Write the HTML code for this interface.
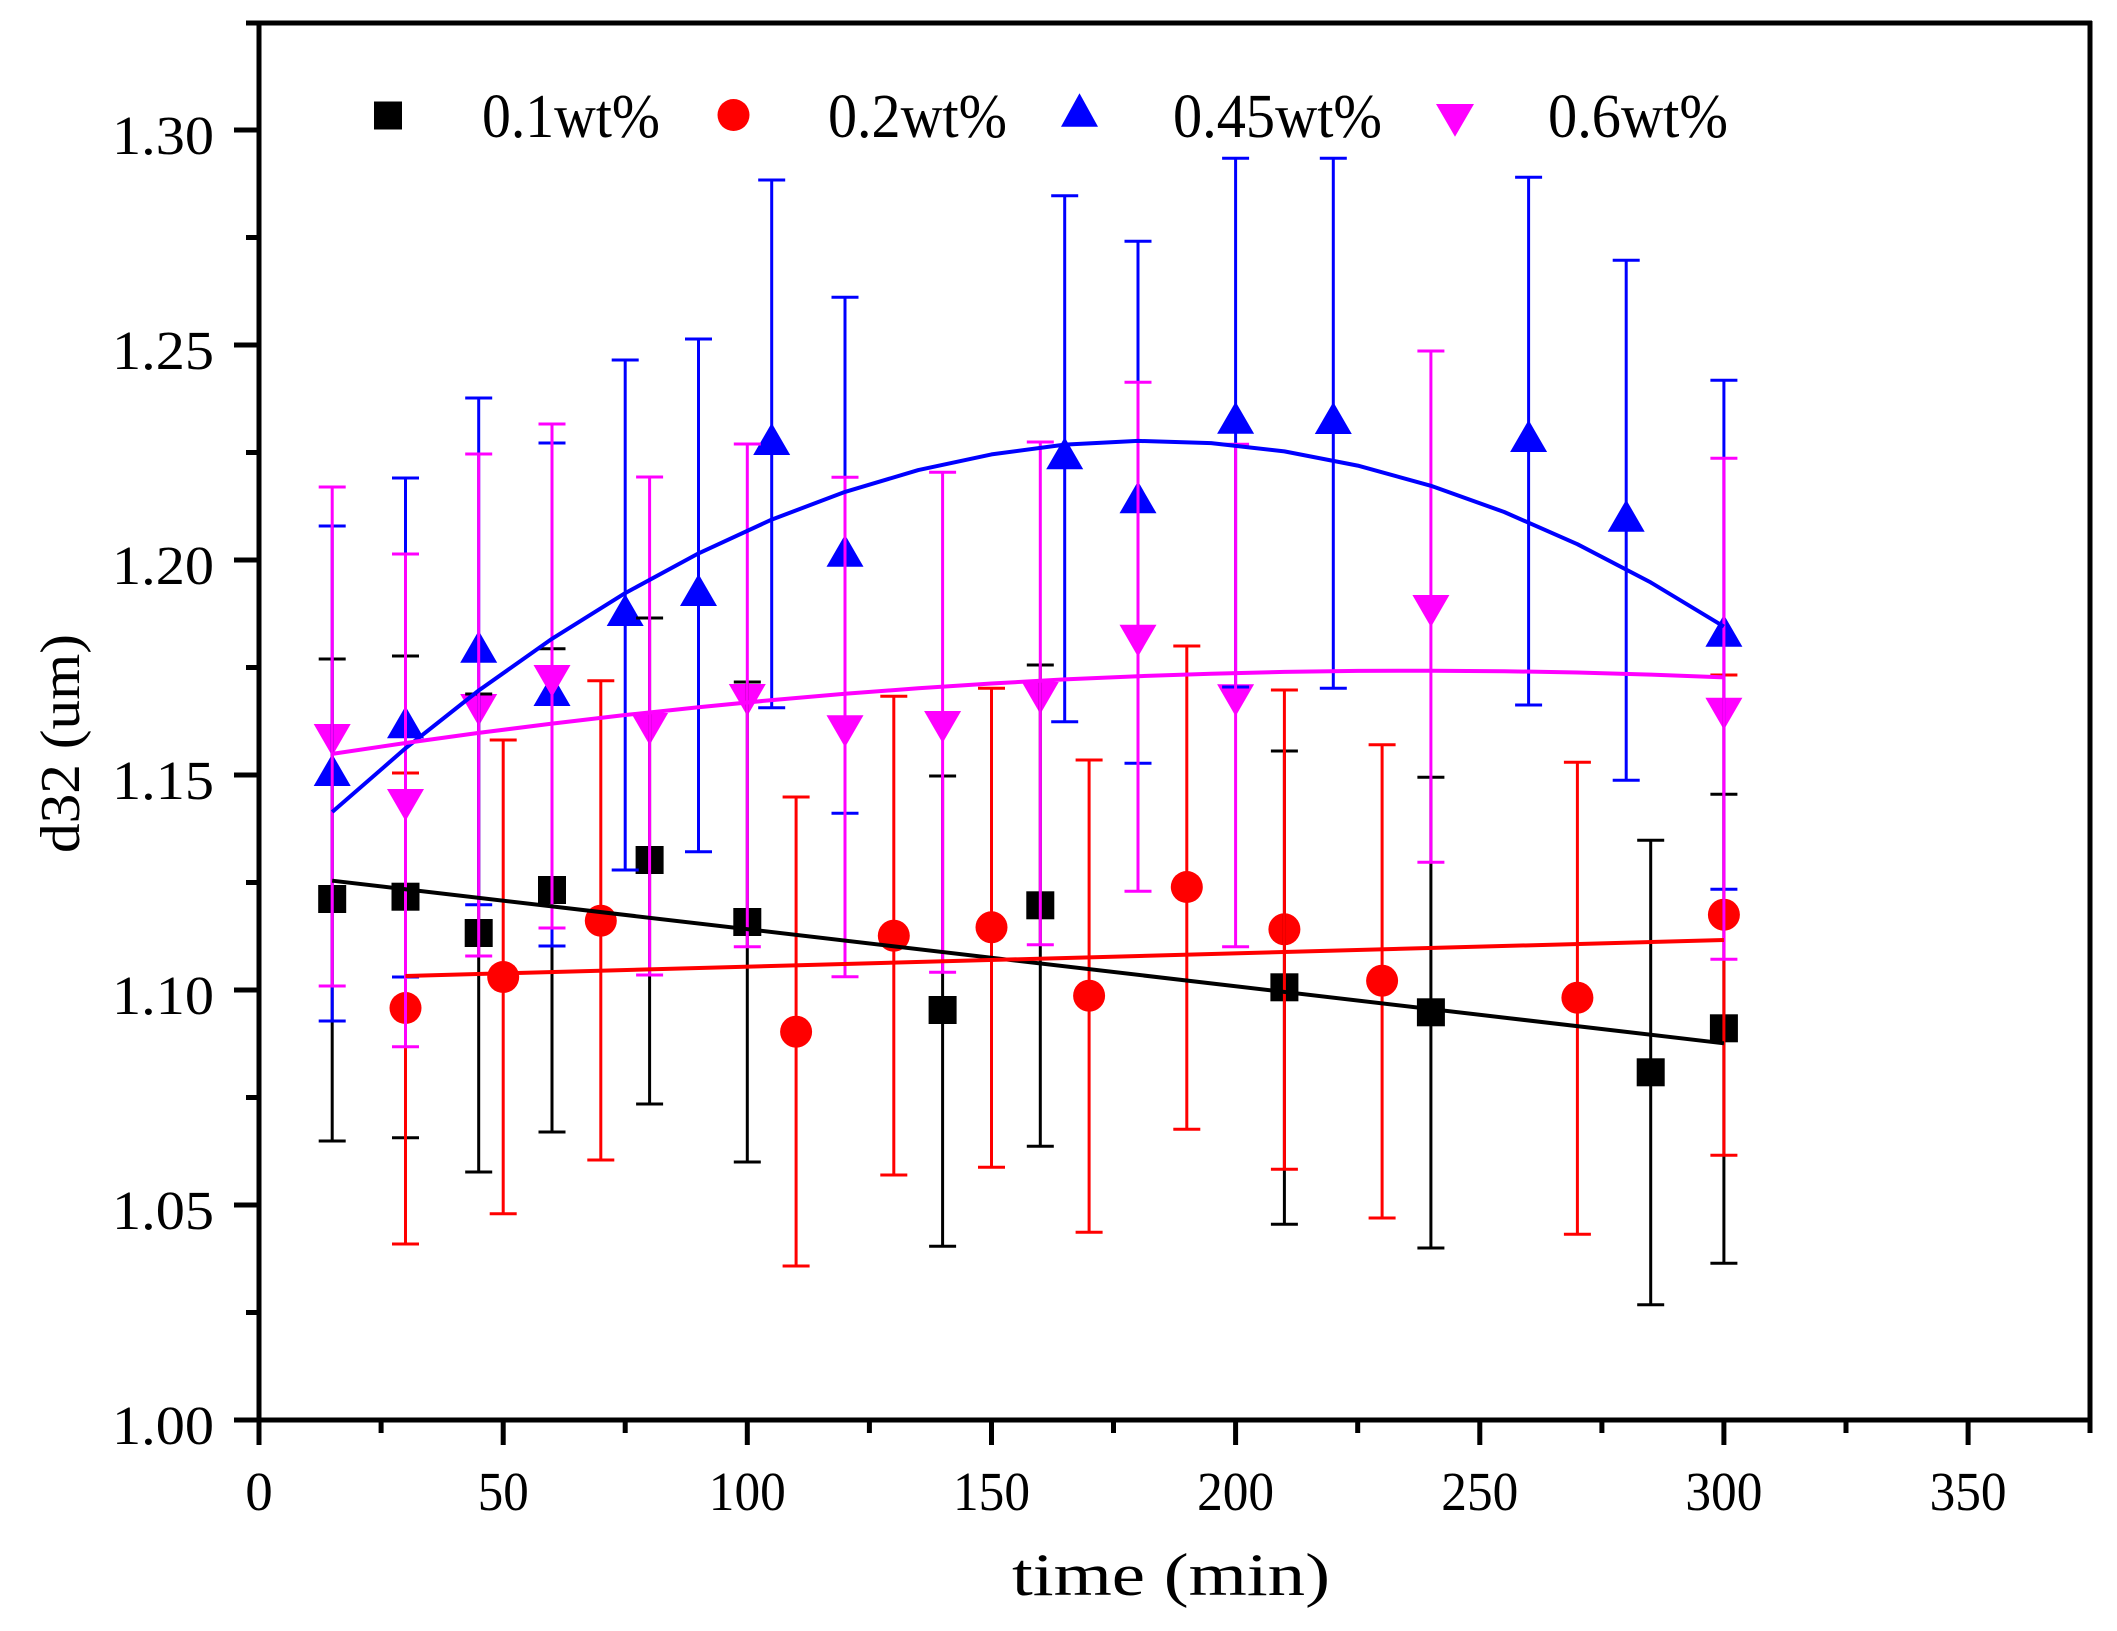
<!DOCTYPE html>
<html>
<head>
<meta charset="utf-8">
<style>
html,body{margin:0;padding:0;background:#fff;}
svg{display:block;}
text{font-family:"Liberation Serif","Noto Serif CJK SC",serif;fill:#000;}
</style>
</head>
<body>
<svg width="2117" height="1631" viewBox="0 0 2117 1631" xmlns="http://www.w3.org/2000/svg">
<rect x="0" y="0" width="2117" height="1631" fill="#fff"/>

<!-- markers -->
<g fill="#000">
<rect x="318.2" y="885" width="28" height="28"/>
<rect x="391.5" y="882.7" width="28" height="28"/>
<rect x="464.7" y="919" width="28" height="28"/>
<rect x="538" y="876" width="28" height="28"/>
<rect x="635.6" y="846" width="28" height="28"/>
<rect x="733.3" y="908" width="28" height="28"/>
<rect x="928.6" y="996" width="28" height="28"/>
<rect x="1026.3" y="891.3" width="28" height="28"/>
<rect x="1270.4" y="973.3" width="28" height="28"/>
<rect x="1416.9" y="998.3" width="28" height="28"/>
<rect x="1636.7" y="1058.3" width="28" height="28"/>
<rect x="1709.9" y="1014.3" width="28" height="28"/>
</g>
<g fill="#ff0000">
<circle cx="405.5" cy="1008" r="16"/>
<circle cx="503.2" cy="977" r="16"/>
<circle cx="600.8" cy="920.7" r="16"/>
<circle cx="796.1" cy="1031.7" r="16"/>
<circle cx="893.8" cy="935.7" r="16"/>
<circle cx="991.5" cy="927.3" r="16"/>
<circle cx="1089.1" cy="995.7" r="16"/>
<circle cx="1186.8" cy="887" r="16"/>
<circle cx="1284.4" cy="929.3" r="16"/>
<circle cx="1382.1" cy="980.7" r="16"/>
<circle cx="1577.4" cy="997.7" r="16"/>
<circle cx="1723.9" cy="914.7" r="16"/>
</g>
<g fill="#0000ff">
<polygon points="313.7,786 350.7,786 332.2,754"/>
<polygon points="387,738.3 424,738.3 405.5,706.3"/>
<polygon points="460.2,662.7 497.2,662.7 478.7,630.7"/>
<polygon points="533.5,706 570.5,706 552,674"/>
<polygon points="606.7,626 643.7,626 625.2,594"/>
<polygon points="680,606 717,606 698.5,574"/>
<polygon points="753.2,455 790.2,455 771.7,423"/>
<polygon points="826.5,566.7 863.5,566.7 845,534.7"/>
<polygon points="1046.2,469.3 1083.2,469.3 1064.7,437.3"/>
<polygon points="1119.5,513.3 1156.5,513.3 1138,481.3"/>
<polygon points="1217.1,433.7 1254.1,433.7 1235.6,401.7"/>
<polygon points="1314.8,434 1351.8,434 1333.3,402"/>
<polygon points="1510.1,452 1547.1,452 1528.6,420"/>
<polygon points="1607.7,531.7 1644.7,531.7 1626.2,499.7"/>
<polygon points="1705.4,646.7 1742.4,646.7 1723.9,614.7"/>
</g>
<g fill="#ff00ff">
<polygon points="313.7,724 350.7,724 332.2,756"/>
<polygon points="387,789 424,789 405.5,821"/>
<polygon points="460.2,694 497.2,694 478.7,726"/>
<polygon points="533.5,665 570.5,665 552,697"/>
<polygon points="631.1,713 668.1,713 649.6,745"/>
<polygon points="728.8,684 765.8,684 747.3,716"/>
<polygon points="826.5,715.3 863.5,715.3 845,747.3"/>
<polygon points="924.1,711 961.1,711 942.6,743"/>
<polygon points="1021.8,682 1058.8,682 1040.3,714"/>
<polygon points="1119.5,624.7 1156.5,624.7 1138,656.7"/>
<polygon points="1217.1,684.3 1254.1,684.3 1235.6,716.3"/>
<polygon points="1412.4,595 1449.4,595 1430.9,627"/>
<polygon points="1705.4,697.7 1742.4,697.7 1723.9,729.7"/>
</g>

<!-- error bars -->
<g fill="none" stroke-width="3">
<path stroke="#000" d="M332.2 659V1141M318.7 659H345.7M318.7 1141H345.7M405.5 656V1137.7M392 656H419M392 1137.7H419M478.7 694V1172M465.2 694H492.2M465.2 1172H492.2M552 648.7V1132M538.5 648.7H565.5M538.5 1132H565.5M649.6 618V1104M636.1 618H663.1M636.1 1104H663.1M747.3 682V1162M733.8 682H760.8M733.8 1162H760.8M942.6 776V1246.3M929.1 776H956.1M929.1 1246.3H956.1M1040.3 665V1146.3M1026.8 665H1053.8M1026.8 1146.3H1053.8M1284.4 751V1224.3M1270.9 751H1297.9M1270.9 1224.3H1297.9M1430.9 777.3V1248M1417.4 777.3H1444.4M1417.4 1248H1444.4M1650.7 840.3V1304.7M1637.2 840.3H1664.2M1637.2 1304.7H1664.2M1723.9 794.3V1263.3M1710.4 794.3H1737.4M1710.4 1263.3H1737.4"/>
<path stroke="#ff0000" d="M405.5 773V1244M392 773H419M392 1244H419M503.2 740V1213.7M489.7 740H516.7M489.7 1213.7H516.7M600.8 680.7V1160M587.3 680.7H614.3M587.3 1160H614.3M796.1 797V1266M782.6 797H809.6M782.6 1266H809.6M893.8 696.3V1175M880.3 696.3H907.3M880.3 1175H907.3M991.5 688.3V1167.3M978 688.3H1005M978 1167.3H1005M1089.1 760V1232.3M1075.6 760H1102.6M1075.6 1232.3H1102.6M1186.8 646V1129.3M1173.3 646H1200.3M1173.3 1129.3H1200.3M1284.4 690V1169.3M1270.9 690H1297.9M1270.9 1169.3H1297.9M1382.1 744.7V1218M1368.6 744.7H1395.6M1368.6 1218H1395.6M1577.4 762.3V1234.3M1563.9 762.3H1590.9M1563.9 1234.3H1590.9M1723.9 675V1155.3M1710.4 675H1737.4M1710.4 1155.3H1737.4"/>
<path stroke="#0000ff" d="M332.2 526V1021M318.7 526H345.7M318.7 1021H345.7M405.5 478V977M392 478H419M392 977H419M478.7 398V904.7M465.2 398H492.2M465.2 904.7H492.2M552 443V946M538.5 443H565.5M538.5 946H565.5M625.2 360V870M611.7 360H638.7M611.7 870H638.7M698.5 339V851.7M685 339H712M685 851.7H712M771.7 180V707.7M758.2 180H785.2M758.2 707.7H785.2M845 297.3V813.3M831.5 297.3H858.5M831.5 813.3H858.5M1064.7 195.7V721.7M1051.2 195.7H1078.2M1051.2 721.7H1078.2M1138 241.3V763.3M1124.5 241.3H1151.5M1124.5 763.3H1151.5M1235.6 158.3V687M1222.1 158.3H1249.1M1222.1 687H1249.1M1333.3 158.3V688.3M1319.8 158.3H1346.8M1319.8 688.3H1346.8M1528.6 177.3V705M1515.1 177.3H1542.1M1515.1 705H1542.1M1626.2 260.3V780.3M1612.7 260.3H1639.7M1612.7 780.3H1639.7M1723.9 380.3V889.3M1710.4 380.3H1737.4M1710.4 889.3H1737.4"/>
<path stroke="#ff00ff" d="M332.2 487V986M318.7 487H345.7M318.7 986H345.7M405.5 554V1046.7M392 554H419M392 1046.7H419M478.7 454V956M465.2 454H492.2M465.2 956H492.2M552 424V928M538.5 424H565.5M538.5 928H565.5M649.6 477V975M636.1 477H663.1M636.1 975H663.1M747.3 444V946.7M733.8 444H760.8M733.8 946.7H760.8M845 477.3V976.7M831.5 477.3H858.5M831.5 976.7H858.5M942.6 472.3V972.3M929.1 472.3H956.1M929.1 972.3H956.1M1040.3 442V944.7M1026.8 442H1053.8M1026.8 944.7H1053.8M1138 382.3V891.3M1124.5 382.3H1151.5M1124.5 891.3H1151.5M1235.6 444.3V946.7M1222.1 444.3H1249.1M1222.1 946.7H1249.1M1430.9 351V862.3M1417.4 351H1444.4M1417.4 862.3H1444.4M1723.9 458.3V959.3M1710.4 458.3H1737.4M1710.4 959.3H1737.4"/>
</g>

<!-- fit lines -->
<g fill="none" stroke-width="4" stroke-linejoin="round">
<line x1="332.2" y1="880.7" x2="1723.9" y2="1043.3" stroke="#000"/>
<line x1="405.5" y1="976" x2="1723.9" y2="940" stroke="#ff0000"/>
<polyline stroke="#0000ff" points="332.2,812.0 405.5,748.3 478.7,690.5 552,638.8 625.2,593.1 698.5,553.4 771.7,519.6 845,491.9 918.3,470.1 991.5,454.4 1064.7,444.6 1138,440.9 1211.2,443.1 1284.4,451.4 1357.7,465.6 1430.9,485.8 1504.2,512 1577.4,544.2 1650.7,582.4 1723.9,626.6"/>
<polyline stroke="#ff00ff" points="332.2,753.9 405.5,743 478.7,732.9 552,723.6 625.2,715 698.5,707.2 771.7,700.1 845,693.8 918.3,688.3 991.5,683.5 1064.7,679.4 1138,676.2 1211.2,673.7 1284.4,671.9 1357.7,670.9 1430.9,670.7 1504.2,671.2 1577.4,672.5 1650.7,674.6 1723.9,677.4"/>
</g>

<!-- axes -->
<g stroke="#000" stroke-width="5" fill="none">
<line x1="259" y1="21" x2="259" y2="1422"/>
<line x1="234" y1="1420" x2="2092" y2="1420"/>
<line x1="246" y1="23" x2="2092" y2="23"/>
<line x1="2090" y1="21" x2="2090" y2="1433"/>
<path d="M234 1420H259M234 1205H259M234 990H259M234 775H259M234 560H259M234 345H259M234 130H259"/>
<path d="M246 1312.5H259M246 1097.5H259M246 882.5H259M246 667.5H259M246 452.5H259M246 237.5H259"/>
<path d="M259 1420V1445M503.2 1420V1445M747.3 1420V1445M991.5 1420V1445M1235.6 1420V1445M1479.8 1420V1445M1723.9 1420V1445M1968.1 1420V1445"/>
<path d="M381.1 1420V1433M625.2 1420V1433M869.4 1420V1433M1113.5 1420V1433M1357.7 1420V1433M1601.9 1420V1433M1846 1420V1433"/>
</g>

<!-- y tick labels -->
<g font-size="55" text-anchor="end">
<text x="214" y="1444" textLength="102" lengthAdjust="spacingAndGlyphs">1.00</text>
<text x="214" y="1229" textLength="102" lengthAdjust="spacingAndGlyphs">1.05</text>
<text x="214" y="1014" textLength="102" lengthAdjust="spacingAndGlyphs">1.10</text>
<text x="214" y="799" textLength="102" lengthAdjust="spacingAndGlyphs">1.15</text>
<text x="214" y="584" textLength="102" lengthAdjust="spacingAndGlyphs">1.20</text>
<text x="214" y="369" textLength="102" lengthAdjust="spacingAndGlyphs">1.25</text>
<text x="214" y="154" textLength="102" lengthAdjust="spacingAndGlyphs">1.30</text>
</g>

<!-- x tick labels -->
<g font-size="55" text-anchor="middle">
<text x="259" y="1510">0</text>
<text x="503.2" y="1510" textLength="51" lengthAdjust="spacingAndGlyphs">50</text>
<text x="747.3" y="1510" textLength="77" lengthAdjust="spacingAndGlyphs">100</text>
<text x="991.5" y="1510" textLength="77" lengthAdjust="spacingAndGlyphs">150</text>
<text x="1235.6" y="1510" textLength="77" lengthAdjust="spacingAndGlyphs">200</text>
<text x="1479.8" y="1510" textLength="77" lengthAdjust="spacingAndGlyphs">250</text>
<text x="1723.9" y="1510" textLength="77" lengthAdjust="spacingAndGlyphs">300</text>
<text x="1968.1" y="1510" textLength="77" lengthAdjust="spacingAndGlyphs">350</text>
</g>

<!-- axis titles -->
<text x="1171" y="1595" font-size="60" text-anchor="middle" textLength="318" lengthAdjust="spacingAndGlyphs">time (min)</text>
<text transform="translate(79,743.5) rotate(-90)" x="0" y="0" font-size="56" text-anchor="middle" textLength="219" lengthAdjust="spacingAndGlyphs">d32 (um)</text>

<!-- legend -->
<rect x="374" y="101.5" width="28" height="28" fill="#000"/>
<circle cx="733.5" cy="115" r="16" fill="#ff0000"/>
<polygon points="1061,126.7 1098,126.7 1079.5,93.3" fill="#0000ff"/>
<polygon points="1436,104 1474,104 1455,136.7" fill="#ff00ff"/>
<g font-size="62">
<text x="482" y="137" textLength="178" lengthAdjust="spacingAndGlyphs">0.1wt%</text>
<text x="828" y="137" textLength="179" lengthAdjust="spacingAndGlyphs">0.2wt%</text>
<text x="1173" y="137" textLength="209" lengthAdjust="spacingAndGlyphs">0.45wt%</text>
<text x="1548" y="137" textLength="180" lengthAdjust="spacingAndGlyphs">0.6wt%</text>
</g>
</svg>
</body>
</html>
